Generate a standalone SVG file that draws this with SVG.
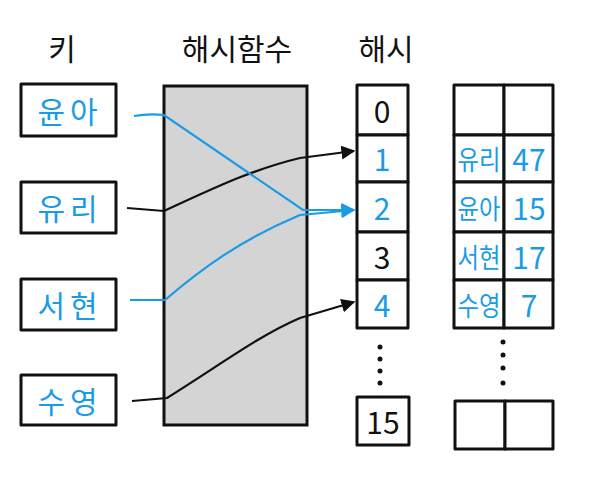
<svg xmlns="http://www.w3.org/2000/svg" width="611" height="486" viewBox="0 0 611 486">
<style>
.box{fill:#fff;stroke:#111;stroke-width:3;stroke-linejoin:round}
.t{font-family:"Noto Sans CJK KR","Noto Sans",sans-serif;text-anchor:middle;dominant-baseline:central}
.h{font-size:30px;fill:#111}
.k{font-size:30px;fill:#1a9be6;letter-spacing:5px}
.b{font-size:30px;fill:#1a9be6}
.d{font-size:30px;fill:#111}
.s{font-size:27px;fill:#1a9be6}
.cb{fill:none;stroke:#111;stroke-width:2.2}
.cl{fill:none;stroke:#1a9be6;stroke-width:2.2}
.dot{fill:#111}
</style>
<defs>
<marker id="ab" viewBox="0 0 10 10" refX="9" refY="5" markerWidth="14" markerHeight="14" markerUnits="userSpaceOnUse" orient="auto"><path d="M0,0 L10,5 L0,10 z" fill="#111"/></marker>
<marker id="al" viewBox="0 0 10 10" refX="9" refY="5" markerWidth="14" markerHeight="14" markerUnits="userSpaceOnUse" orient="auto"><path d="M0,0 L10,5 L0,10 z" fill="#1a9be6"/></marker>
</defs>
<rect width="611" height="486" fill="#fff"/>
<g id="titles">
<text class="t h" x="62" y="47">키</text>
<text class="t h" x="237" y="47">해시함수</text>
<text class="t h" x="386" y="47">해시</text>
</g>
<g id="hashfunc"><rect x="164" y="86" width="143" height="339" fill="#d4d4d4" stroke="#111" stroke-width="3"/></g>
<g id="key-yuna"><rect class="box" x="21" y="84" width="95" height="52"/><text class="t k" x="70" y="110">윤아</text></g>
<g id="key-yuri"><rect class="box" x="21" y="182" width="95" height="51"/><text class="t k" x="70" y="207">유리</text></g>
<g id="key-seohyun"><rect class="box" x="21" y="279" width="95" height="51"/><text class="t k" x="70" y="304">서현</text></g>
<g id="key-sooyoung"><rect class="box" x="21" y="375" width="95" height="50"/><text class="t k" x="70" y="400">수영</text></g>
<g id="hash-col">
<rect class="box" x="357" y="85" width="51" height="50"/><text class="t d" x="382" y="110">0</text>
<rect class="box" x="357" y="135" width="51" height="47"/><text class="t b" x="382" y="158">1</text>
<rect class="box" x="357" y="182" width="51" height="50"/><text class="t b" x="382" y="207">2</text>
<rect class="box" x="357" y="232" width="51" height="48"/><text class="t d" x="382" y="256">3</text>
<rect class="box" x="357" y="280" width="51" height="48"/><text class="t b" x="382" y="304">4</text>
<circle class="dot" cx="380" cy="347" r="2.5"/><circle class="dot" cx="380" cy="359" r="2.5"/><circle class="dot" cx="380" cy="371" r="2.5"/><circle class="dot" cx="380" cy="383" r="2.5"/>
<rect class="box" x="357" y="397" width="52" height="48"/><text class="t d" x="383" y="421">15</text>
</g>
<g id="table">
<rect class="box" x="454" y="85" width="50" height="50"/><rect class="box" x="504" y="85" width="49" height="50"/>
<rect class="box" x="454" y="135" width="50" height="47"/><rect class="box" x="504" y="135" width="49" height="47"/>
<rect class="box" x="454" y="182" width="50" height="50"/><rect class="box" x="504" y="182" width="49" height="50"/>
<rect class="box" x="454" y="232" width="50" height="48"/><rect class="box" x="504" y="232" width="49" height="48"/>
<rect class="box" x="454" y="280" width="50" height="48"/><rect class="box" x="504" y="280" width="49" height="48"/>
<text class="t s" x="479" y="158" textLength="43" lengthAdjust="spacingAndGlyphs">유리</text><text class="t b" x="529" y="158">47</text>
<text class="t s" x="479" y="207" textLength="43" lengthAdjust="spacingAndGlyphs">윤아</text><text class="t b" x="529" y="207">15</text>
<text class="t s" x="479" y="256" textLength="43" lengthAdjust="spacingAndGlyphs">서현</text><text class="t b" x="529" y="256">17</text>
<text class="t s" x="479" y="304" textLength="43" lengthAdjust="spacingAndGlyphs">수영</text><text class="t b" x="529" y="304">7</text>
<circle class="dot" cx="503" cy="342" r="2.5"/><circle class="dot" cx="503" cy="355" r="2.5"/><circle class="dot" cx="503" cy="368" r="2.5"/><circle class="dot" cx="503" cy="383" r="2.5"/>
<rect class="box" x="455" y="401" width="50" height="48"/><rect class="box" x="505" y="401" width="48" height="48"/>
</g>
<g id="connectors">
<path class="cb" d="M127,208 L164,211 C210,190 250,170 300,158 L354,151" marker-end="url(#ab)"/>
<path class="cb" d="M132,401 L167,398 C220,365 260,335 300,318 L354,302" marker-end="url(#ab)"/>
<path class="cl" d="M134,116 C145,114 155,114 164,115 L303,210 L354,210" marker-end="url(#al)"/>
<path class="cl" d="M130,300 L165,300 C200,270 240,240 300,215 L354,210" marker-end="url(#al)"/>
</g>
</svg>
